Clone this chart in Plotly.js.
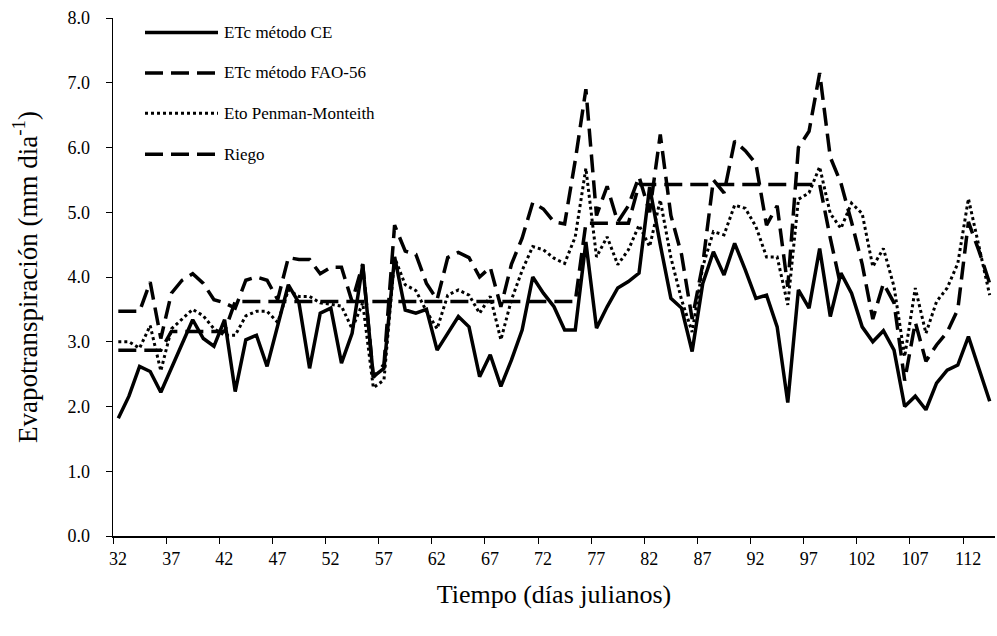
<!DOCTYPE html>
<html>
<head>
<meta charset="utf-8">
<script src="https://cdn.plot.ly/plotly-3.0.1.min.js"></script>
<style>
  html, body { margin: 0; padding: 0; background: #ffffff; }
  #chart { width: 997px; height: 636px; }
</style>
</head>
<body>
<div id="chart"></div>
<script>
// Julian days (categories)
var days = [32,33,34,35,36,37,38,39,40,41,42,43,44,45,46,47,48,49,50,51,
            52,53,54,55,56,57,58,59,60,61,62,63,64,65,66,67,68,69,70,71,
            72,73,74,75,76,77,78,79,80,81,82,83,84,85,86,87,88,89,90,91,
            92,93,94,95,96,97,98,99,100,101,102,103,104,105,106,107,108,109,110,111,
            112,113,114];

// ETc método CE (solid)
var etcCE = [1.82,2.16,2.62,2.54,2.22,2.59,2.97,3.34,3.05,2.93,
             3.34,2.23,3.03,3.10,2.62,3.25,3.88,3.60,2.59,3.44,
             3.52,2.67,3.13,4.19,2.46,2.59,4.31,3.49,3.44,3.50,
             2.87,3.13,3.39,3.23,2.46,2.80,2.31,2.72,3.18,4.00,
             3.75,3.54,3.18,3.18,4.54,3.21,3.54,3.83,3.93,4.06,
             5.39,4.50,3.67,3.52,2.85,3.90,4.39,4.03,4.52,4.11,
             3.67,3.72,3.23,2.06,3.80,3.52,4.44,3.39,4.06,3.75,
             3.23,3.00,3.17,2.87,2.00,2.16,1.95,2.36,2.56,2.64,
             3.08,2.58,2.08];

// ETc método FAO-56 (dashed)
var etcFAO = [3.47,3.47,3.47,3.92,3.05,3.75,3.95,4.05,3.90,3.65,
              3.60,3.52,3.95,4.00,3.95,3.65,4.30,4.27,4.27,4.05,
              4.15,4.15,3.62,4.20,2.45,2.65,4.80,4.40,4.35,3.90,
              3.65,4.30,4.38,4.30,4.00,4.15,3.54,4.20,4.60,5.15,
              5.05,4.85,4.82,5.80,6.90,4.95,5.40,4.85,5.10,5.55,
              5.00,6.20,4.95,4.35,3.35,4.20,5.50,5.30,6.10,5.95,
              5.75,4.80,5.10,3.85,6.00,6.25,7.15,5.85,5.45,4.85,
              4.20,3.35,3.90,3.60,2.40,3.30,2.70,2.95,3.15,3.50,
              4.85,4.40,3.90];

// Eto Penman-Monteith (dotted)
var etoPM = [3.00,3.00,2.90,3.25,2.55,3.20,3.35,3.50,3.40,3.20,
             3.10,3.10,3.40,3.47,3.47,3.30,3.80,3.70,3.70,3.60,
             3.58,3.55,3.20,3.60,2.29,2.41,4.30,3.88,3.79,3.47,
             3.20,3.72,3.80,3.72,3.44,3.70,3.03,3.65,4.10,4.47,
             4.42,4.29,4.21,4.62,5.68,4.31,4.62,4.19,4.42,4.80,
             4.47,5.19,4.30,3.65,3.15,4.16,4.70,4.65,5.11,5.06,
             4.78,4.31,4.31,3.57,5.20,5.30,5.70,4.98,4.75,5.14,
             4.98,4.16,4.44,3.85,2.77,3.83,3.13,3.62,3.83,4.21,
             5.21,4.49,3.72];

// Riego (dashed, stepwise)
var riego = [2.87,2.87,2.87,2.87,2.87,3.16,3.16,3.16,3.16,3.16,
             3.16,3.62,3.62,3.62,3.62,3.62,3.62,3.62,3.62,3.62,
             3.62,3.62,3.62,3.62,3.62,3.62,3.62,3.62,3.62,3.62,
             3.62,3.62,3.62,3.62,3.62,3.62,3.62,3.62,3.62,3.62,
             3.62,3.62,3.62,3.62,4.83,4.83,4.83,4.83,4.83,5.43,
             5.43,5.43,5.43,5.43,5.43,5.43,5.43,5.43,5.43,5.43,
             5.43,5.43,5.43,5.43,5.43,5.43,5.43,4.60,3.85,null,
             null,null,null,null,null,null,null,null,null,null,
             null,null,null];

var seriesNames = ["ETc método CE", "ETc método FAO-56", "Eto Penman-Monteith", "Riego"];
var tickLabels = ["32","37","42","47","52","57","62","67","72","77","82","87","92","97","102","107","112"];
var tickPos = [31.5,36.5,41.5,46.5,51.5,56.5,61.5,66.5,71.5,76.5,81.5,86.5,91.5,96.5,101.5,106.5,111.5];

var styles = [
  {width: 3.5, dash: "solid"},
  {width: 3.5, dash: "18px,8px"},
  {width: 3, dash: "3px,3px"},
  {width: 3.5, dash: "18px,8px"}
];
var ys = [etcCE, etcFAO, etoPM, riego];

var traces = ys.map(function (y, i) {
  return {
    x: days, y: y, name: seriesNames[i], type: "scatter", mode: "lines",
    line: {color: "#000000", width: styles[i].width, dash: styles[i].dash},
    connectgaps: false, showlegend: false, hoverinfo: "skip"
  };
});

// plot area in pixels
var L = 113, R = 995, T = 17.5, B = 536.5;
var W = 997, H = 636;
function px2paperX(p) { return (p - L) / (R - L); }
function px2paperY(p) { return (B - p) / (B - T); }

var FONT = "Liberation Serif, Times New Roman, serif";
var legRows = [32, 72.5, 113, 154];
var shapes = [], annotations = [];
legRows.forEach(function (py, i) {
  shapes.push({
    type: "line", xref: "paper", yref: "paper",
    x0: px2paperX(145), x1: px2paperX(218), y0: px2paperY(py), y1: px2paperY(py),
    line: {color: "#000000", width: styles[i].width, dash: styles[i].dash}
  });
  annotations.push({
    xref: "paper", yref: "paper", x: px2paperX(222), y: px2paperY(py),
    xanchor: "left", yanchor: "middle", showarrow: false,
    text: seriesNames[i],
    font: {family: FONT, size: 17, color: "#000"}
  });
});

var layout = {
  width: W, height: H,
  margin: {l: L, r: W - R, t: T, b: H - B, pad: 0},
  paper_bgcolor: "#ffffff", plot_bgcolor: "#ffffff",
  font: {family: FONT, size: 18, color: "#000"},
  showlegend: false,
  xaxis: {
    range: [31.5, 114.5], showgrid: false, zeroline: false,
    showline: true, linecolor: "#000", linewidth: 1.5,
    ticks: "outside", ticklen: 6, tickwidth: 1, tickcolor: "#000",
    tickmode: "array", tickvals: tickPos, ticktext: tickLabels,
    ticklabelshift: 5,
    tickfont: {family: FONT, size: 18, color: "#000"},
    title: {text: "Tiempo (días julianos)", font: {family: FONT, size: 26, color: "#000"}, standoff: 16}
  },
  yaxis: {
    range: [0, 8], showgrid: false, zeroline: false,
    showline: true, linecolor: "#000", linewidth: 1.5,
    ticks: "outside", ticklen: 6, tickwidth: 1, tickcolor: "#000",
    dtick: 1, tick0: 0, tickformat: ".1f",
    ticklabelstandoff: 12,
    tickfont: {family: FONT, size: 18, color: "#000"},
    title: {text: "Evapotranspiración (mm dia<sup>-1</sup>)", font: {family: FONT, size: 27, color: "#000"}, standoff: 22}
  },
  shapes: shapes,
  annotations: annotations
};

Plotly.newPlot("chart", traces, layout, {displayModeBar: false, staticPlot: true});
</script>
</body>
</html>
